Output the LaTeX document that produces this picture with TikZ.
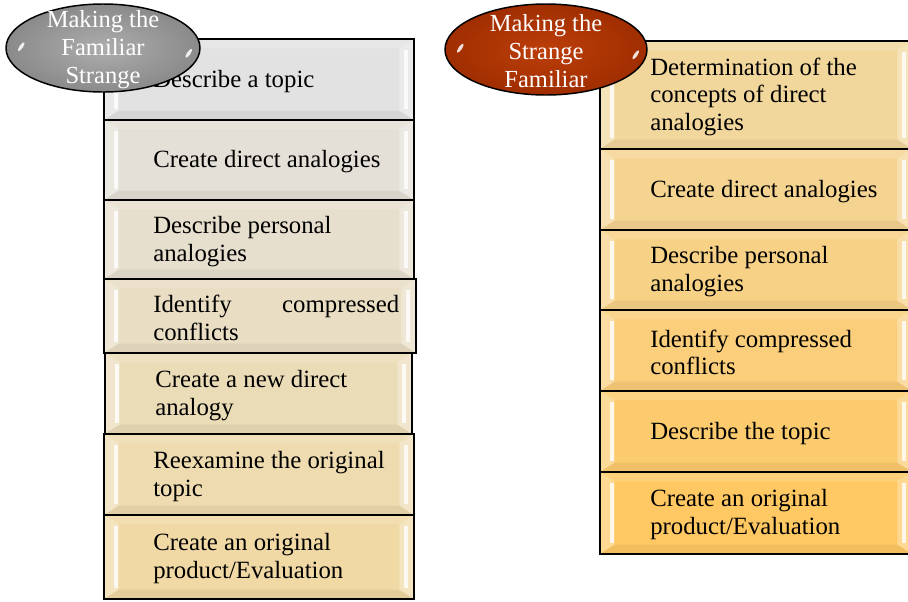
\documentclass[tikz,border=0pt]{standalone}
\usepackage{fontspec}
\setmainfont{Liberation Serif}
\usetikzlibrary{shapes,calc}
\definecolor{FSTop}{HTML}{E2E2E2}
\definecolor{FSBot}{HTML}{F0D9A4}
\definecolor{SFTop}{HTML}{F2D79D}
\definecolor{SFBot}{HTML}{FFC862}
\definecolor{FSGray}{HTML}{ADADAD}
\definecolor{FSGrayDark}{HTML}{8A8A8A}
\definecolor{SFRust}{HTML}{BC3E0A}
\definecolor{SFRustDark}{HTML}{A02E00}
\tikzset{
    bevel/.style = {path picture={
        \coordinate (bnw) at (path picture bounding box.north west);
        \coordinate (bne) at (path picture bounding box.north east);
        \coordinate (bsw) at (path picture bounding box.south west);
        \coordinate (bse) at (path picture bounding box.south east);
        % side faces
        \fill[white,opacity=.3] (bnw) -- ([shift={(11pt,-7pt)}]bnw) -- ([shift={(11pt,7pt)}]bsw) -- (bsw) -- cycle;
        \fill[white,opacity=.3] (bne) -- ([shift={(-11pt,-7pt)}]bne) -- ([shift={(-11pt,7pt)}]bse) -- (bse) -- cycle;
        % top and bottom faces
        \fill[white,opacity=.15] (bnw) -- (bne) -- ([shift={(-11pt,-7pt)}]bne) -- ([shift={(11pt,-7pt)}]bnw) -- cycle;
        \fill[black,opacity=.05] (bsw) -- (bse) -- ([shift={(-11pt,7pt)}]bse) -- ([shift={(11pt,7pt)}]bsw) -- cycle;
        % bright edges
        \draw[white,opacity=.8,line width=2.8pt] ([shift={(9pt,-8pt)}]bnw) -- ([shift={(9pt,8pt)}]bsw);
        \draw[white,opacity=.8,line width=2.8pt] ([shift={(-6pt,-8pt)}]bne) -- ([shift={(-6pt,8pt)}]bse);
    }},
    stepbox/.style = {draw=black, line width=1.4pt, rectangle, anchor=north west, inner sep=0pt, bevel},
    steptext/.style = {anchor=west, align=left, inner sep=0pt, yshift=-1.5pt, font=\fontsize{18.6}{20.9}\selectfont},
    phase/.style = {draw=black, line width=1.1pt, ellipse, inner sep=0pt},
    phasetext/.style = {text=white, align=center, inner sep=0pt, font=\fontsize{18.4}{21}\selectfont},
    gloss/.style = {fill=white, opacity=.85}
}

\begin{document}
\begin{tikzpicture}[x=0.75pt,y=-0.75pt]
    \useasboundingbox (0,0) rectangle (908,601);
    % making the familiar strange
    \node[stepbox,fill=FSTop,minimum width=232.5pt,minimum height=60.75pt] (fs1) at (103,38) {};
    \node[stepbox,fill=FSBot!17!FSTop,minimum width=232.5pt,minimum height=60pt] (fs2) at (103,119) {};
    \node[stepbox,fill=FSBot!33!FSTop,minimum width=232.5pt,minimum height=59.25pt] (fs3) at (103,199) {};
    \node[stepbox,fill=FSBot!50!FSTop,minimum width=234pt,minimum height=55.5pt] (fs4) at (103,278) {};
    \node[stepbox,fill=FSBot!67!FSTop,minimum width=230.25pt,minimum height=60.75pt] (fs5) at (104,352) {};
    \node[stepbox,fill=FSBot!83!FSTop,minimum width=232.5pt,minimum height=60.75pt] (fs6) at (103,433) {};
    \node[stepbox,fill=FSBot,minimum width=232.5pt,minimum height=63pt] (fs7) at (103,514) {};
    \node[steptext] (fs1t) at ([xshift=37.5pt]fs1.west) {Describe a topic};
    \node[steptext] (fs2t) at ([xshift=37.5pt]fs2.west) {Create direct analogies};
    \node[steptext] (fs3t) at ([xshift=37.5pt]fs3.west) {Describe personal\\analogies};
    \node[steptext,text width=184.5pt] (fs4t) at ([xshift=37.5pt]fs4.west) {Identify\hfill compressed\\conflicts};
    \node[steptext] (fs5t) at ([xshift=38.25pt]fs5.west) {Create a new direct\\analogy};
    \node[steptext] (fs6t) at ([xshift=37.5pt]fs6.west) {Reexamine the original\\topic};
    \node[steptext] (fs7t) at ([xshift=37.5pt]fs7.west) {Create an original\\product/Evaluation};
    % making the strange familiar
    \node[stepbox,fill=SFTop,minimum width=234pt,minimum height=81pt] (sf1) at (599,40) {};
    \node[stepbox,fill=SFBot!20!SFTop,minimum width=234pt,minimum height=60.75pt] (sf2) at (599,148) {};
    \node[stepbox,fill=SFBot!40!SFTop,minimum width=234pt,minimum height=60pt] (sf3) at (599,229) {};
    \node[stepbox,fill=SFBot!60!SFTop,minimum width=234pt,minimum height=60.75pt] (sf4) at (599,309) {};
    \node[stepbox,fill=SFBot!80!SFTop,minimum width=234pt,minimum height=60.75pt] (sf5) at (599,390) {};
    \node[stepbox,fill=SFBot,minimum width=234pt,minimum height=61.5pt] (sf6) at (599,471) {};
    \node[steptext] (sf1t) at ([xshift=38.25pt]sf1.west) {Determination of the\\concepts of direct\\analogies};
    \node[steptext] (sf2t) at ([xshift=38.25pt]sf2.west) {Create direct analogies};
    \node[steptext] (sf3t) at ([xshift=38.25pt]sf3.west) {Describe personal\\analogies};
    \node[steptext] (sf4t) at ([xshift=38.25pt]sf4.west) {Identify compressed\\conflicts};
    \node[steptext] (sf5t) at ([xshift=38.25pt]sf5.west) {Describe the topic};
    \node[steptext] (sf6t) at ([xshift=38.25pt]sf6.west) {Create an original\\product/Evaluation};
    % phase labels
    \node[phase,shade,inner color=FSGray,outer color=FSGrayDark,minimum width=145.5pt,minimum height=66pt] (fam) at (103,48) {};
    \node[phase,shade,inner color=SFRust,outer color=SFRustDark,minimum width=151.5pt,minimum height=68.25pt] (str) at (546,49.5) {};
    \coordinate (famgl1) at ([shift={(12pt,1pt)}]fam.west);
    \coordinate (famgl2) at ([shift={(-9pt,-4pt)}]fam.east);
    \coordinate (strgl1) at ([shift={(12pt,1pt)}]str.west);
    \coordinate (strgl2) at ([shift={(-9pt,-4pt)}]str.east);
    \fill[gloss,rotate around={-35:(famgl1)}] (famgl1) ellipse[x radius=1.3pt,y radius=4pt];
    \fill[gloss,rotate around={-35:(famgl2)}] (famgl2) ellipse[x radius=1.3pt,y radius=4pt];
    \fill[gloss,rotate around={-35:(strgl1)}] (strgl1) ellipse[x radius=1.3pt,y radius=4pt];
    \fill[gloss,rotate around={-35:(strgl2)}] (strgl2) ellipse[x radius=1.3pt,y radius=4pt];
    \node[phasetext] (famt) at ([yshift=-1pt]fam.center) {Making the\\Familiar\\Strange};
    \node[phasetext] (strt) at ([yshift=-1pt]str.center) {Making the\\Strange\\Familiar};
\end{tikzpicture}
\end{document}
